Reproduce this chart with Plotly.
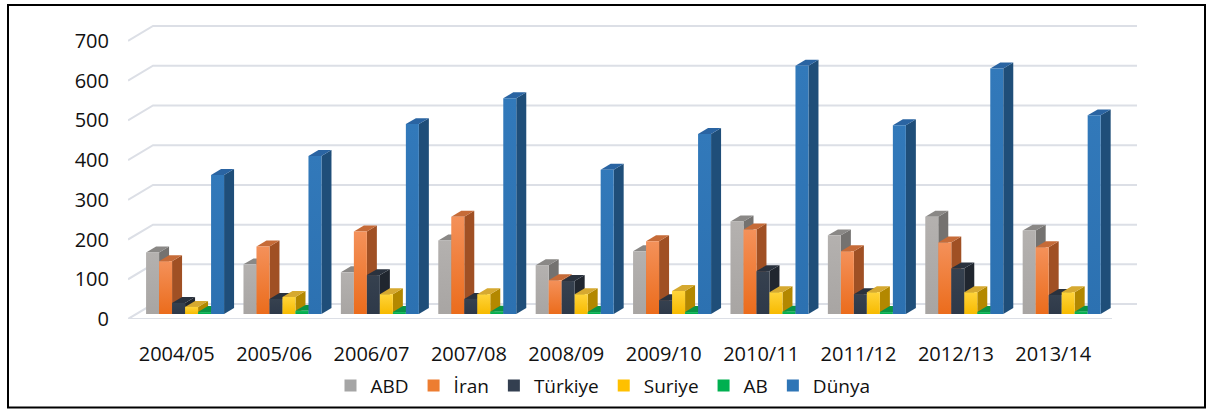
import plotly.graph_objects as go

# ---------------- data ----------------
categories = ["2004/05", "2005/06", "2006/07", "2007/08", "2008/09",
              "2009/10", "2010/11", "2011/12", "2012/13", "2013/14"]
ABD = [155, 125, 105, 185, 123, 158, 233, 198, 245, 210]
Iran = [133, 170, 208, 245, 85, 183, 213, 158, 180, 168]
Turkiye = [28, 38, 98, 38, 83, 35, 108, 50, 115, 48]
Suriye = [18, 43, 50, 50, 50, 58, 55, 55, 55, 55]
AB = [5, 8, 5, 6, 5, 5, 6, 5, 5, 6]
Dunya = [350, 398, 478, 543, 363, 453, 625, 475, 618, 500]
series_names = ["ABD", "İran", "Türkiye", "Suriye", "AB", "Dünya"]
y_ticks = [0, 100, 200, 300, 400, 500, 600, 700]

series_values = [ABD, Iran, Turkiye, Suriye, AB, Dunya]

# ---------------- styles ----------------
# (legend colour, front bottom, front top, top face, side face)
styles = [
    ("#A5A5A5", "#A8A5A3", "#B4B1AF", "#8A8886", "#747270"),
    ("#ED7D31", "#EB6C1C", "#F4915A", "#C66B38", "#A05024"),
    ("#333F50", "#2E3949", "#36414F", "#2A323E", "#20262F"),
    ("#FFC000", "#F7BA00", "#FFD43A", "#D6A930", "#B38800"),
    ("#00B050", "#00A84A", "#12BA5C", "#0A9345", "#007E39"),
    ("#2E75B6", "#2C71B1", "#3279BA", "#2A64A2", "#1F4E79"),
]

PX_CAT = 97.4            # pixels per category slot
PX_VAL = 0.4             # pixels per value unit
DX = 25 / PX_CAT         # full floor depth, horizontal (category units)
DY = 15 / PX_VAL         # full floor depth, vertical (value units)
D0, D1 = 1 / 3, 0.733    # bar depth span
BW = 13 / PX_CAT         # bar width
GAP = 0.1                # left padding in each slot
X_MAX = 1009 / PX_CAT
Y_MAX = 301 / PX_VAL
FRONT_END = (1112 - 128) / PX_CAT
GRID = "#DCDFE6"

fig = go.Figure()

# back wall gridlines + left wall diagonals
for t in y_ticks:
    fig.add_trace(go.Scatter(
        x=[0, DX, X_MAX], y=[t, t + DY, t + DY], mode="lines",
        line=dict(color=GRID, width=2), hoverinfo="skip", showlegend=False))
# floor front edge
fig.add_trace(go.Scatter(
    x=[0, FRONT_END], y=[0, 0], mode="lines",
    line=dict(color=GRID, width=2), hoverinfo="skip", showlegend=False))

# 3D columns
for i, cat in enumerate(categories):
    for j, (name, vals) in enumerate(zip(series_names, series_values)):
        v = vals[i]
        leg, fb, ft, topc, sidec = styles[j]
        x0 = i + GAP + j * BW
        x1 = x0 + BW
        ax0, ay0 = DX * D0, DY * D0
        ax1, ay1 = DX * D1, DY * D1
        # side face
        fig.add_trace(go.Scatter(
            x=[x1 + ax0, x1 + ax1, x1 + ax1, x1 + ax0, x1 + ax0],
            y=[ay0, ay1, v + ay1, v + ay0, ay0],
            fill="toself", fillcolor=sidec, mode="lines",
            line=dict(width=0, color=sidec), hoverinfo="skip", showlegend=False))
        # top face
        fig.add_trace(go.Scatter(
            x=[x0 + ax0, x1 + ax0, x1 + ax1, x0 + ax1, x0 + ax0],
            y=[v + ay0, v + ay0, v + ay1, v + ay1, v + ay0],
            fill="toself", fillcolor=topc, mode="lines",
            line=dict(width=0, color=topc), hoverinfo="skip", showlegend=False))
        # front face
        fig.add_trace(go.Scatter(
            x=[x0 + ax0, x1 + ax0, x1 + ax0, x0 + ax0, x0 + ax0],
            y=[ay0, ay0, v + ay0, v + ay0, ay0],
            fill="toself", mode="lines",
            fillgradient=dict(type="vertical", colorscale=[[0, fb], [1, ft]]),
            line=dict(width=0, color=fb), name=name,
            text=[f"{cat}<br>{name}: {v}"] * 5, hoverinfo="text",
            showlegend=False))

# legend entries
for name, st in zip(series_names, styles):
    fig.add_trace(go.Scatter(
        x=[None], y=[None], mode="markers", name=name,
        marker=dict(symbol="square", size=12, color=st[0]),
        showlegend=True))

# chart border
L, T, W, H = 128, 20, 1009, 301
def px_x(p):
    return (p - L) / W
def px_y(p):
    return (T + H - p) / H

fig.add_shape(type="rect", xref="paper", yref="paper",
              x0=px_x(8), x1=px_x(1205), y0=px_y(410), y1=px_y(5),
              line=dict(color="#000000", width=2), fillcolor="rgba(0,0,0,0)",
              layer="below")

fig.update_layout(
    width=1213, height=416,
    margin=dict(l=L, r=1213 - L - W, t=T, b=416 - T - H),
    paper_bgcolor="white", plot_bgcolor="white",
    font=dict(family="Open Sans, Lato, sans-serif", size=20, color="#111111"),
    showlegend=True,
    legend=dict(orientation="h", x=px_x(603), xanchor="center",
                y=px_y(388), yanchor="middle", font=dict(size=19),
                itemwidth=30, tracegroupgap=0),
    xaxis=dict(range=[0, X_MAX], showgrid=False, zeroline=False,
               showline=False, ticks="",
               tickvals=[i + 0.5 for i in range(len(categories))],
               ticktext=categories, ticklabelstandoff=21, fixedrange=True),
    yaxis=dict(range=[0, Y_MAX], showgrid=False, zeroline=False,
               showline=False, ticks="", tickvals=y_ticks,
               ticktext=[str(t) for t in y_ticks], ticklabelstandoff=18,
               fixedrange=True),
)

fig.write_html("out.html", include_plotlyjs=True, full_html=True,
               config={"displayModeBar": False},
               post_script="document.body.style.margin='0';")
